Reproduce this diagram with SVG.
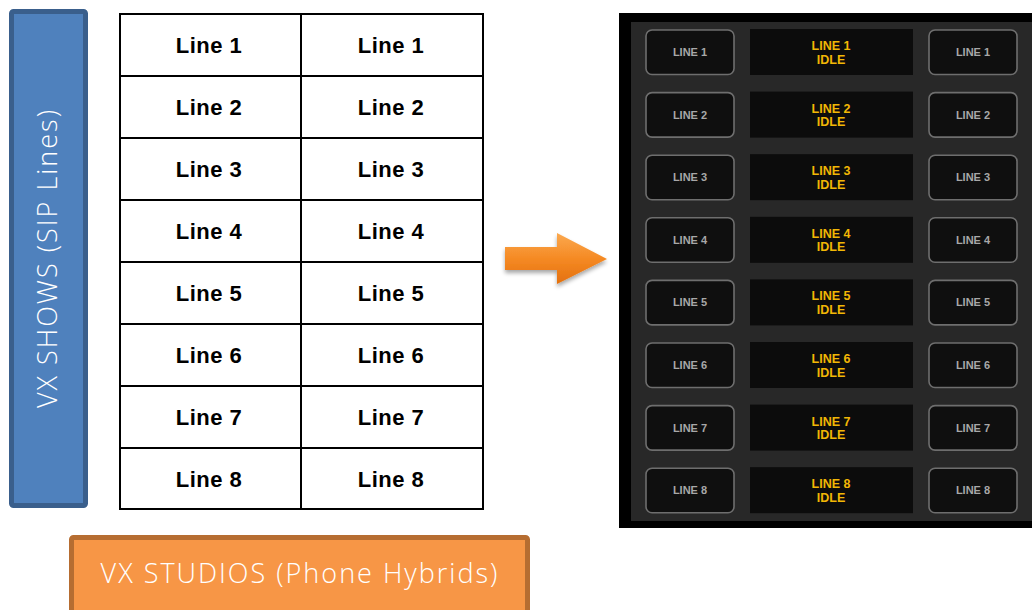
<svg xmlns="http://www.w3.org/2000/svg" width="1032" height="610" viewBox="0 0 1032 610">
<defs>
<style>
.cell{fill:#fff;stroke:#000;stroke-width:2}
.ct{font-family:"Liberation Sans",Arial,sans-serif;font-weight:bold;font-size:22px;letter-spacing:0.5px;fill:#000;text-anchor:middle}
.btn{fill:#0f0f0f;stroke:#6e6e6e;stroke-width:1.6}
.bt{font-family:"Liberation Sans",Arial,sans-serif;font-weight:bold;font-size:11px;fill:#a8a8a8;text-anchor:middle}
.mid{fill:#0c0c0c}
.yt{font-family:"Liberation Sans",Arial,sans-serif;font-weight:bold;font-size:12.5px;fill:#f2b705;text-anchor:middle}
.lbl{font-family:"Open Sans","Liberation Sans",sans-serif;font-weight:300;font-size:27px;letter-spacing:2px;fill:#fff;text-anchor:middle}
</style>
<linearGradient id="ag" x1="0" y1="0" x2="0" y2="1">
<stop offset="0" stop-color="#fba94f"/>
<stop offset="0.5" stop-color="#f58a24"/>
<stop offset="1" stop-color="#e4700e"/>
</linearGradient>
<filter id="sh" x="-20%" y="-20%" width="140%" height="150%">
<feGaussianBlur in="SourceAlpha" stdDeviation="2"/>
<feOffset dx="0" dy="3"/>
<feComponentTransfer><feFuncA type="linear" slope="0.35"/></feComponentTransfer>
<feMerge><feMergeNode/><feMergeNode in="SourceGraphic"/></feMerge>
</filter>
</defs>
<rect width="1032" height="610" fill="#fff"/>

<g id="vx-shows">
<rect x="11.5" y="11.5" width="74" height="494" rx="2" fill="#4f81bd" stroke="#3a5f8c" stroke-width="5"/>
<text class="lbl" transform="translate(57 258) rotate(-90)">VX SHOWS (SIP Lines)</text>
</g>

<g id="vx-studios">
<rect x="71.5" y="537.5" width="456" height="80" rx="2" fill="#f79646" stroke="#b66d31" stroke-width="5"/>
<text class="lbl" x="300" y="583">VX STUDIOS (Phone Hybrids)</text>
</g>

<g id="table">
<rect class="cell" x="120" y="14" width="181" height="62"/><rect class="cell" x="301" y="14" width="182" height="62"/>
<rect class="cell" x="120" y="76" width="181" height="62"/><rect class="cell" x="301" y="76" width="182" height="62"/>
<rect class="cell" x="120" y="138" width="181" height="62"/><rect class="cell" x="301" y="138" width="182" height="62"/>
<rect class="cell" x="120" y="200" width="181" height="62"/><rect class="cell" x="301" y="200" width="182" height="62"/>
<rect class="cell" x="120" y="262" width="181" height="62"/><rect class="cell" x="301" y="262" width="182" height="62"/>
<rect class="cell" x="120" y="324" width="181" height="62"/><rect class="cell" x="301" y="324" width="182" height="62"/>
<rect class="cell" x="120" y="386" width="181" height="62"/><rect class="cell" x="301" y="386" width="182" height="62"/>
<rect class="cell" x="120" y="448" width="181" height="61"/><rect class="cell" x="301" y="448" width="182" height="61"/>
<text class="ct" x="209" y="53">Line 1</text><text class="ct" x="391" y="53">Line 1</text>
<text class="ct" x="209" y="115">Line 2</text><text class="ct" x="391" y="115">Line 2</text>
<text class="ct" x="209" y="177">Line 3</text><text class="ct" x="391" y="177">Line 3</text>
<text class="ct" x="209" y="239">Line 4</text><text class="ct" x="391" y="239">Line 4</text>
<text class="ct" x="209" y="301">Line 5</text><text class="ct" x="391" y="301">Line 5</text>
<text class="ct" x="209" y="363">Line 6</text><text class="ct" x="391" y="363">Line 6</text>
<text class="ct" x="209" y="425">Line 7</text><text class="ct" x="391" y="425">Line 7</text>
<text class="ct" x="209" y="487">Line 8</text><text class="ct" x="391" y="487">Line 8</text>
</g>

<g id="connectors">
<path d="M505 247 H557 V233 L607 259 L557 284 V270 H505 Z" fill="url(#ag)" filter="url(#sh)"/>
</g>

<g id="panel">
<rect x="619" y="13" width="413" height="515" fill="#000"/>
<rect x="631" y="22" width="401" height="499" fill="#282828"/>
<g transform="translate(0 0)">
<rect class="btn" x="646" y="30" width="88" height="44.5" rx="6"/><rect class="mid" x="750" y="29" width="163" height="46"/><rect class="btn" x="929" y="30" width="88" height="44.5" rx="6"/>
<text class="bt" x="690" y="56">LINE 1</text><text class="yt" x="831" y="50">LINE 1</text><text class="yt" x="831" y="63.5">IDLE</text><text class="bt" x="973" y="56">LINE 1</text>
</g>
<g transform="translate(0 62.6)">
<rect class="btn" x="646" y="30" width="88" height="44.5" rx="6"/><rect class="mid" x="750" y="29" width="163" height="46"/><rect class="btn" x="929" y="30" width="88" height="44.5" rx="6"/>
<text class="bt" x="690" y="56">LINE 2</text><text class="yt" x="831" y="50">LINE 2</text><text class="yt" x="831" y="63.5">IDLE</text><text class="bt" x="973" y="56">LINE 2</text>
</g>
<g transform="translate(0 125.2)">
<rect class="btn" x="646" y="30" width="88" height="44.5" rx="6"/><rect class="mid" x="750" y="29" width="163" height="46"/><rect class="btn" x="929" y="30" width="88" height="44.5" rx="6"/>
<text class="bt" x="690" y="56">LINE 3</text><text class="yt" x="831" y="50">LINE 3</text><text class="yt" x="831" y="63.5">IDLE</text><text class="bt" x="973" y="56">LINE 3</text>
</g>
<g transform="translate(0 187.8)">
<rect class="btn" x="646" y="30" width="88" height="44.5" rx="6"/><rect class="mid" x="750" y="29" width="163" height="46"/><rect class="btn" x="929" y="30" width="88" height="44.5" rx="6"/>
<text class="bt" x="690" y="56">LINE 4</text><text class="yt" x="831" y="50">LINE 4</text><text class="yt" x="831" y="63.5">IDLE</text><text class="bt" x="973" y="56">LINE 4</text>
</g>
<g transform="translate(0 250.4)">
<rect class="btn" x="646" y="30" width="88" height="44.5" rx="6"/><rect class="mid" x="750" y="29" width="163" height="46"/><rect class="btn" x="929" y="30" width="88" height="44.5" rx="6"/>
<text class="bt" x="690" y="56">LINE 5</text><text class="yt" x="831" y="50">LINE 5</text><text class="yt" x="831" y="63.5">IDLE</text><text class="bt" x="973" y="56">LINE 5</text>
</g>
<g transform="translate(0 313)">
<rect class="btn" x="646" y="30" width="88" height="44.5" rx="6"/><rect class="mid" x="750" y="29" width="163" height="46"/><rect class="btn" x="929" y="30" width="88" height="44.5" rx="6"/>
<text class="bt" x="690" y="56">LINE 6</text><text class="yt" x="831" y="50">LINE 6</text><text class="yt" x="831" y="63.5">IDLE</text><text class="bt" x="973" y="56">LINE 6</text>
</g>
<g transform="translate(0 375.6)">
<rect class="btn" x="646" y="30" width="88" height="44.5" rx="6"/><rect class="mid" x="750" y="29" width="163" height="46"/><rect class="btn" x="929" y="30" width="88" height="44.5" rx="6"/>
<text class="bt" x="690" y="56">LINE 7</text><text class="yt" x="831" y="50">LINE 7</text><text class="yt" x="831" y="63.5">IDLE</text><text class="bt" x="973" y="56">LINE 7</text>
</g>
<g transform="translate(0 438.2)">
<rect class="btn" x="646" y="30" width="88" height="44.5" rx="6"/><rect class="mid" x="750" y="29" width="163" height="46"/><rect class="btn" x="929" y="30" width="88" height="44.5" rx="6"/>
<text class="bt" x="690" y="56">LINE 8</text><text class="yt" x="831" y="50">LINE 8</text><text class="yt" x="831" y="63.5">IDLE</text><text class="bt" x="973" y="56">LINE 8</text>
</g>
</g>
</svg>
